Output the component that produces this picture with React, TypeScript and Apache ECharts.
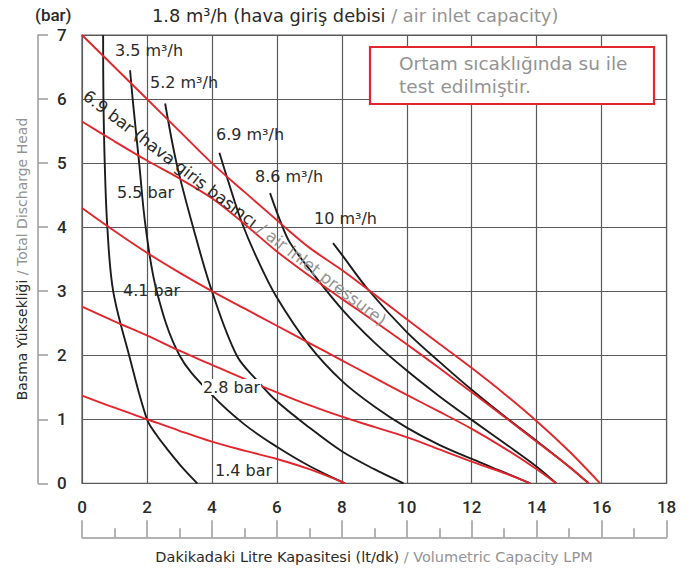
import React, { useEffect, useRef } from 'react';
import * as echarts from 'echarts';

const FONT = '"DejaVu Sans", sans-serif';
const TICKFONT = 'Roboto, "DejaVu Sans", sans-serif';

// x-axis ticks (lt/dk), y-axis ticks (bar)
const xTickValues = [0, 2, 4, 6, 8, 10, 12, 14, 16, 18];
const yTickValues = [0, 1, 2, 3, 4, 5, 6, 7];

// Air inlet pressure curves (red)
const pressureNames = ['6.9 bar', '5.5 bar', '4.1 bar', '2.8 bar', '1.4 bar'];
const p69 = [[0, 7], [1, 6.5], [2, 6], [3, 5.5], [4, 5], [5, 4.55], [6.2, 4.02], [7, 3.68], [8, 3.33], [9, 2.95], [10, 2.56], [11, 2.18], [12, 1.8], [13, 1.4], [14, 0.97], [15, 0.5], [15.95, 0]];
const p55 = [[0, 5.65], [1, 5.34], [2, 5.04], [3, 4.76], [4, 4.45], [5, 4.05], [6, 3.62], [7, 3.24], [8, 2.88], [9, 2.53], [10, 2.17], [11, 1.8], [12, 1.42], [13, 1.04], [14, 0.65], [15, 0.26], [15.6, 0]];
const p41 = [[0, 4.3], [1, 3.94], [2, 3.6], [3, 3.29], [4, 3.0], [5, 2.73], [6, 2.46], [7, 2.19], [8, 1.92], [9, 1.65], [10, 1.38], [11, 1.12], [12, 0.85], [13, 0.55], [14, 0.22], [14.6, 0]];
const p28 = [[0, 2.76], [1, 2.53], [2, 2.31], [3, 2.07], [4, 1.85], [5, 1.63], [6, 1.42], [7, 1.22], [8, 1.04], [9, 0.88], [10, 0.72], [11, 0.53], [12, 0.34], [13, 0.16], [13.8, 0]];
const p14 = [[0, 1.37], [1, 1.18], [2, 1.0], [3, 0.82], [4, 0.65], [5, 0.51], [6, 0.38], [7, 0.22], [8.1, 0]];

// Air consumption curves (black)
const flowNames = ['1.8 m³/h', '3.5 m³/h', '5.2 m³/h', '6.9 m³/h', '8.6 m³/h', '10 m³/h'];
const f18 = [[0.65, 7], [0.66, 6], [0.7, 5], [0.78, 4], [0.96, 3], [1.45, 2], [2.0, 1], [2.3, 0.75], [2.6, 0.55], [3.05, 0.27], [3.55, 0]];
const f35 = [[1.48, 6.45], [1.56, 6], [1.76, 5], [1.96, 4], [2.3, 3], [3.0, 2], [4.0, 1.38], [5, 0.92], [6, 0.57], [7, 0.27], [8.1, 0]];
const f52 = [[2.56, 5.93], [2.91, 5], [3.42, 4], [4.0, 3], [4.76, 2], [5.4, 1.6], [6, 1.28], [7, 0.87], [8, 0.5], [9, 0.22], [9.9, 0]];
const f69 = [[4.23, 5.16], [4.5, 4.72], [4.9, 4.1], [5.4, 3.5], [6, 2.9], [7, 2.15], [8, 1.6], [9, 1.2], [10, 0.87], [11, 0.6], [12, 0.38], [13, 0.17], [13.8, 0]];
const f86 = [[5.79, 4.53], [6.1, 4.1], [6.4, 3.76], [7.07, 3.3], [8, 2.72], [9, 2.2], [10, 1.76], [11, 1.36], [12, 0.99], [13, 0.63], [14, 0.26], [14.6, 0]];
const f10 = [[7.73, 3.75], [8, 3.57], [8.8, 3.03], [10, 2.36], [11, 1.9], [12, 1.46], [13, 1.05], [14, 0.66], [15, 0.26], [15.6, 0]];

const pressureData = [p69, p55, p41, p28, p14];
const flowData = [f18, f35, f52, f69, f86, f10];

const RED = '#e3262c';
const BLACK = '#1c1c1c';
const DARK = '#2a2a2a';
const GREY = '#939393';
const AXIS = '#9a9a9a';
const GRID = '#5a5a5a';

export default function App() {
  const ref = useRef<HTMLDivElement>(null);
  useEffect(() => {
    if (!ref.current) return;
    const chart = echarts.init(ref.current, undefined, { renderer: 'svg' });

    const series: any[] = [];
    flowData.forEach((d, i) => {
      series.push({
        name: flowNames[i], type: 'line', data: d, smooth: 0.35, showSymbol: false, symbol: 'none',
        lineStyle: { color: BLACK, width: 1.9 }, z: 3,
      });
    });
    pressureData.forEach((d, i) => {
      series.push({
        name: pressureNames[i], type: 'line', data: d, smooth: 0.35, showSymbol: false, symbol: 'none',
        lineStyle: { color: RED, width: 1.9 }, z: 4,
      });
    });

    const lbl = (text: string, x: number, y: number, extra: any = {}) => ({
      type: 'text', x, y, z: 50,
      style: {
        text, fill: DARK, fontSize: 16, fontFamily: FONT, fontWeight: 400,
        textAlign: 'left', textVerticalAlign: 'middle', ...extra,
      },
    });

    const richStyle = (size: number) => ({
      a: { fontSize: size, fontFamily: FONT, fontWeight: 400, fill: DARK, color: DARK },
      b: { fontSize: size, fontFamily: FONT, fontWeight: 400, fill: GREY, color: GREY },
    });

    const option: any = {
      animation: false,
      backgroundColor: '#ffffff',
      grid: { left: 82, top: 35, width: 584.6, height: 448.3, show: true, borderColor: GRID, borderWidth: 1.2, containLabel: false },
      xAxis: {
        type: 'value', min: 0, max: 18, interval: 2, position: 'bottom', offset: 54,
        axisLine: { show: true, onZero: false, lineStyle: { color: AXIS, width: 1.5 } },
        axisTick: { show: true, inside: true, length: 17, lineStyle: { color: AXIS, width: 1.5 } },
        minorTick: { show: true, splitNumber: 2, length: 9, lineStyle: { color: AXIS, width: 1.5 } },
        axisLabel: {
          inside: true, margin: 22, fontSize: 17, fontWeight: 500, color: DARK, fontFamily: TICKFONT,
          formatter: (v: number) => (xTickValues.includes(v) ? String(v) : ''),
        },
        splitLine: { show: true, lineStyle: { color: GRID, width: 1.2 } },
      },
      yAxis: {
        type: 'value', min: 0, max: 7, interval: 1, position: 'left', offset: 44,
        axisLine: { show: true, onZero: false, lineStyle: { color: AXIS, width: 1.5 } },
        axisTick: { show: true, inside: true, length: 10, lineStyle: { color: AXIS, width: 1.5 } },
        axisLabel: {
          inside: true, margin: 19, fontSize: 17, fontWeight: 500, color: DARK, fontFamily: TICKFONT,
          formatter: (v: number) => (yTickValues.includes(v) ? String(v) : ''),
        },
        splitLine: { show: true, lineStyle: { color: GRID, width: 1.2 } },
      },
      series,
      graphic: [
        // top texts
        lbl('(bar)', 35, 15, { fontSize: 17, fontFamily: TICKFONT, fontWeight: 500 }),
        {
          type: 'text', x: 152, y: 15, z: 50,
          style: {
            text: '{a|1.8 m³/h (hava giriş debisi }{b|/ air inlet capacity)}',
            textAlign: 'left', textVerticalAlign: 'middle', rich: richStyle(17.8),
          },
        },
        // note box
        {
          type: 'rect', z: 40,
          shape: { x: 370, y: 47, width: 284, height: 57 },
          style: { fill: '#ffffff', stroke: RED, lineWidth: 2.2 },
        },
        lbl('Ortam sıcaklığında su ile', 399, 63, { fill: GREY, fontSize: 18.5 }),
        lbl('test edilmiştir.', 399, 86, { fill: GREY, fontSize: 18.5 }),
        // flow labels
        lbl('3.5 m³/h', 115, 50),
        lbl('5.2 m³/h', 150, 82),
        lbl('6.9 m³/h', 216, 134),
        lbl('8.6 m³/h', 255, 176),
        lbl('10 m³/h', 314, 218),
        // pressure labels
        lbl('5.5 bar', 117, 192),
        lbl('4.1 bar', 123, 290),
        lbl('2.8 bar', 202, 387, { backgroundColor: '#ffffff', padding: [0, 1] }),
        lbl('1.4 bar', 215, 470),
        // rotated pressure label
        {
          type: 'text', x: 85, y: 94, rotation: -0.651, z: 50,
          style: {
            text: '{a|6.9 bar (hava giriş basıncı }{b|/ air inlet pressure)}',
            textAlign: 'left', textVerticalAlign: 'middle', rich: richStyle(16.5),
          },
        },
        // axis names
        {
          type: 'text', x: 22, y: 259, rotation: Math.PI / 2, z: 50,
          style: {
            text: '{a|Basma Yüksekliği }{b|/ Total Discharge Head}',
            textAlign: 'center', textVerticalAlign: 'middle', rich: richStyle(14),
          },
        },
        {
          type: 'text', x: 374, y: 557, z: 50,
          style: {
            text: '{a|Dakikadaki Litre Kapasitesi (lt/dk) }{b|/ Volumetric Capacity LPM}',
            textAlign: 'center', textVerticalAlign: 'middle', rich: richStyle(14.5),
          },
        },
      ],
    };
    chart.setOption(option);
    return () => chart.dispose();
  }, []);
  return <div ref={ref} style={{ position: 'fixed', left: 0, top: 0, width: 692, height: 573 }} />;
}
